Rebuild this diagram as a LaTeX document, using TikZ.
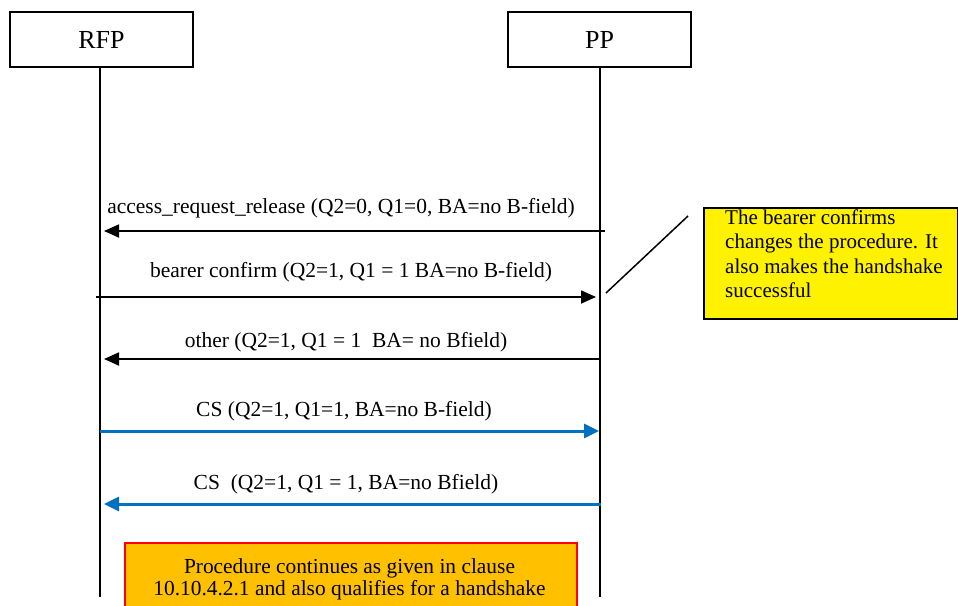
\documentclass[tikz,border=0pt]{standalone}
\usepackage{fontspec}
\setmainfont{Liberation Serif}
\usetikzlibrary{arrows.meta}
\definecolor{msgblue}{RGB}{0,112,192}
\definecolor{noteorange}{RGB}{255,192,0}
\begin{document}
\begin{tikzpicture}[x=1pt,y=-1pt,
  entity/.style={draw,line width=1.5pt,minimum width=183pt,minimum height=55pt,inner sep=0pt,font=\fontsize{26}{29}\selectfont},
  life/.style={line width=1.8pt},
  msg/.style={line width=1.8pt,-{Triangle[length=15pt,width=13pt]}},
  bluemsg/.style={msg,draw=msgblue,line width=3pt,-{Triangle[length=15pt,width=14pt]}},
  lbl/.style={font=\fontsize{21.5}{24}\selectfont,inner sep=0pt},
  note/.style={font=\fontsize{21}{24.5}\selectfont,inner sep=0pt}]
\useasboundingbox (0,0) rectangle (958,605);

% participants
\node[entity] (rfp) at (101.5,39.5) {RFP};
\node[entity] (pp) at (599.5,39.5) {PP};
\coordinate (rfpend) at (100,597);
\coordinate (ppend) at (600,597);
\draw[life] (rfp.south -| rfpend) -- (rfpend);
\draw[life] (pp.south -| ppend) -- (ppend);

% message end points
\coordinate (p1) at (605,231); \coordinate (r1) at (104,231);
\coordinate (r2) at (96,297);  \coordinate (p2) at (596,297);
\coordinate (p3) at (600,359); \coordinate (r3) at (104,359);
\coordinate (r4) at (100,431); \coordinate (p4) at (599,431);
\coordinate (p5) at (601,504); \coordinate (r5) at (104,504);

\draw[msg] (p1) -- (r1);
\node[lbl] (l1) at (341,208) {access\_request\_release (Q2=0, Q1=0, BA=no B-field)};
\draw[msg] (r2) -- (p2);
\node[lbl] (l2) at (351,272) {bearer confirm (Q2=1, Q1 = 1 BA=no B-field)};
\draw[msg] (p3) -- (r3);
\node[lbl] (l3) at (346,342) {other (Q2=1, Q1 = 1\ \ BA= no Bfield)};
\draw[bluemsg] (r4) -- (p4);
\node[lbl] (l4) at (344,411) {CS (Q2=1, Q1=1, BA=no B-field)};
\draw[bluemsg] (p5) -- (r5);
\node[lbl] (l5) at (346,484) {CS\ \ (Q2=1, Q1 = 1, BA=no Bfield)};

% yellow note with its pointer
\node[draw,line width=1.5pt,fill=yellow,minimum width=254pt,minimum height=111pt,anchor=north west,inner sep=0pt] (note) at (703,207) {};
\node[note,anchor=north west,align=left] (notetext) at (725,209.5) {The bearer confirms\\changes the procedure. It\\also makes the handshake\\successful};
\coordinate (ptrA) at (606,293);
\coordinate (ptrB) at (688,216);
\draw[line width=1.5pt] (ptrA) -- (ptrB);

% orange procedure box
\node[draw=red,line width=1.5pt,fill=noteorange,minimum width=452pt,minimum height=80pt,anchor=north west,inner sep=0pt] (proc) at (124,542) {};
\node[font=\fontsize{21.4}{22}\selectfont,inner sep=0pt,align=center] (proctext) at (349.5,579) {Procedure continues as given in clause\\10.10.4.2.1 and also qualifies for a handshake};
\end{tikzpicture}
\end{document}
